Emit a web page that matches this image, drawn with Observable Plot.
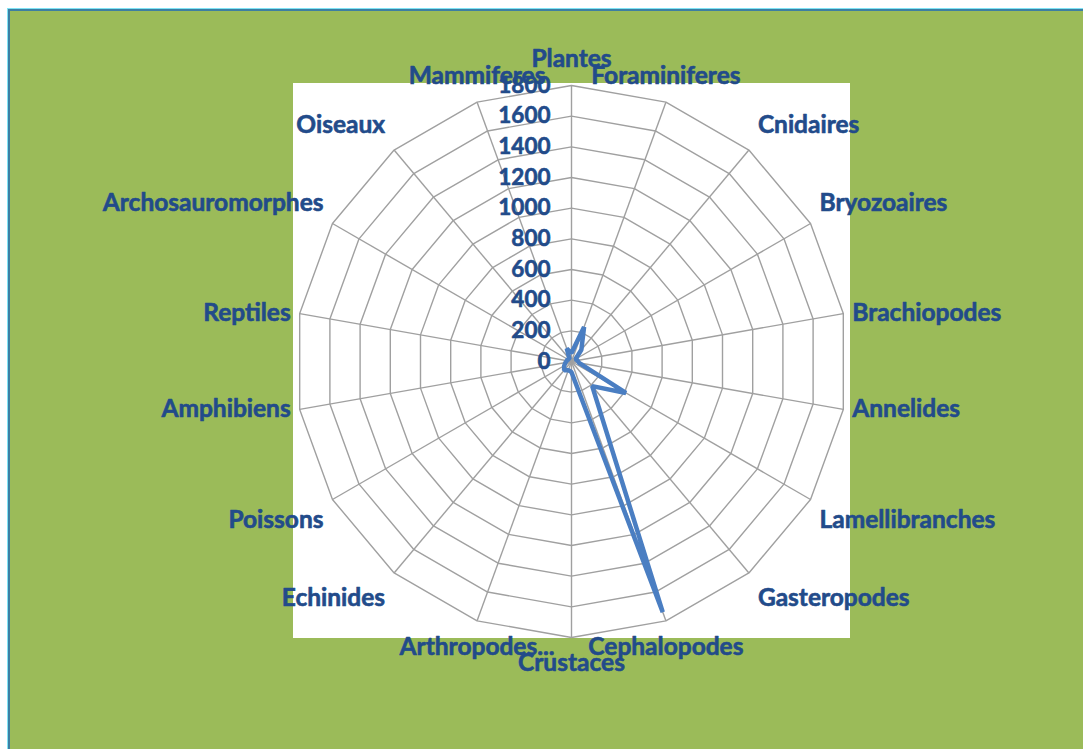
<!DOCTYPE html>
<html>
<head>
<meta charset="utf-8">
<script src="https://cdn.jsdelivr.net/npm/d3@7"></script>
<script src="https://cdn.jsdelivr.net/npm/@observablehq/plot@0.6"></script>
<style>
  html, body { margin: 0; padding: 0; background: #ffffff; }
  #page { position: relative; width: 1083px; height: 749px; overflow: hidden; }
  #frame { position: absolute; left: 8px; top: 9px; right: -4px; bottom: -4px;
           background: #9bbb59; border-left: 2px solid #3d7fa3; border-top: 2px solid #3d7fa3;
           box-shadow: -1px -1px 0 #7fe3f5; }
  #area { position: absolute; left: 293px; top: 83px; width: 557px; height: 555px; background: #ffffff; }
  #chart { position: absolute; left: 0; top: 0; }
</style>
</head>
<body>
<div id="page">
  <div id="frame"></div>
  <div id="area"></div>
  <div id="chart"></div>
</div>
<script>
const categories = ["Plantes","Foraminiferes","Cnidaires","Bryozoaires","Brachiopodes","Annelides",
  "Lamellibranches","Gasteropodes","Cephalopodes","Crustaces","Arthropodes...","Echinides",
  "Poissons","Amphibiens","Reptiles","Archosauromorphes","Oiseaux","Mammiferes"];
const values = [55, 240, 100, 30, 40, 50, 410, 210, 1740, 70, 60, 75, 55, 40, 30, 30, 20, 90];
const ticks = [0, 200, 400, 600, 800, 1000, 1200, 1400, 1600, 1800];

const W = 1083, H = 749;
const cx = 571, cy = 361, R = 276, maxV = 1800;
const k = R / maxV; // px per unit
const n = categories.length;

const rows = categories.map((c, i) => {
  const a = i * 2 * Math.PI / n;
  return {c, v: values[i], a, s: Math.sin(a), co: Math.cos(a)};
});

const ringPts = [];
for (const t of ticks.slice(1)) for (const r of rows) ringPts.push({t, s: r.s, co: r.co});

function anchorOf(r) {
  if (Math.abs(r.s) < 0.5) return "middle";
  return r.s > 0 ? "start" : "end";
}
function labelX(r) {
  const a = anchorOf(r);
  const dx = a === "middle" ? 0 : (a === "start" ? 9 : -9);
  return maxV * r.s + dx / k;
}
function labelY(r) {
  const a = anchorOf(r);
  let dy;
  if (a === "middle") dy = 26 * Math.sign(r.co);
  else dy = 25 * Math.sign(r.co) * Math.min(1, Math.max(0, (Math.abs(r.co) - 0.17) * 2.5));
  return maxV * r.co + dy / k;
}

const font = "Lato, 'Open Sans', sans-serif";
const textColor = "#224b8a";

const labelMark = (anchor) => Plot.text(rows.filter(r => anchorOf(r) === anchor), {
  x: labelX, y: labelY, text: "c", textAnchor: anchor, lineAnchor: "middle",
  fill: textColor, stroke: textColor, strokeWidth: 0.6,
  fontSize: 24.5, fontWeight: "bold", fontFamily: font
});

const plot = Plot.plot({
  width: W, height: H,
  margin: 0,
  style: {background: "transparent", overflow: "visible"},
  x: {domain: [-cx / k, (W - cx) / k], axis: null},
  y: {domain: [(cy - H) / k, cy / k], axis: null},
  marks: [
    Plot.line(ringPts, {x: d => d.t * d.s, y: d => d.t * d.co, z: "t", curve: "linear-closed",
      stroke: "#a0a0a0", strokeWidth: 1.4}),
    Plot.link(rows, {x1: 0, y1: 0, x2: d => maxV * d.s, y2: d => maxV * d.co,
      stroke: "#a0a0a0", strokeWidth: 1.4}),
    Plot.line(rows, {x: d => d.v * d.s, y: d => d.v * d.co, curve: "linear-closed",
      stroke: "#4a7ec2", strokeWidth: 4.5, strokeLinejoin: "miter"}),
    Plot.text(ticks, {x: 0, y: d => d, text: d => String(d), textAnchor: "end", lineAnchor: "middle",
      dx: -21, fill: textColor, stroke: textColor, strokeWidth: 0.6,
      fontSize: 22.5, fontWeight: "bold", fontFamily: font}),
    labelMark("middle"), labelMark("start"), labelMark("end")
  ]
});
document.getElementById("chart").appendChild(plot);
</script>
</body>
</html>
